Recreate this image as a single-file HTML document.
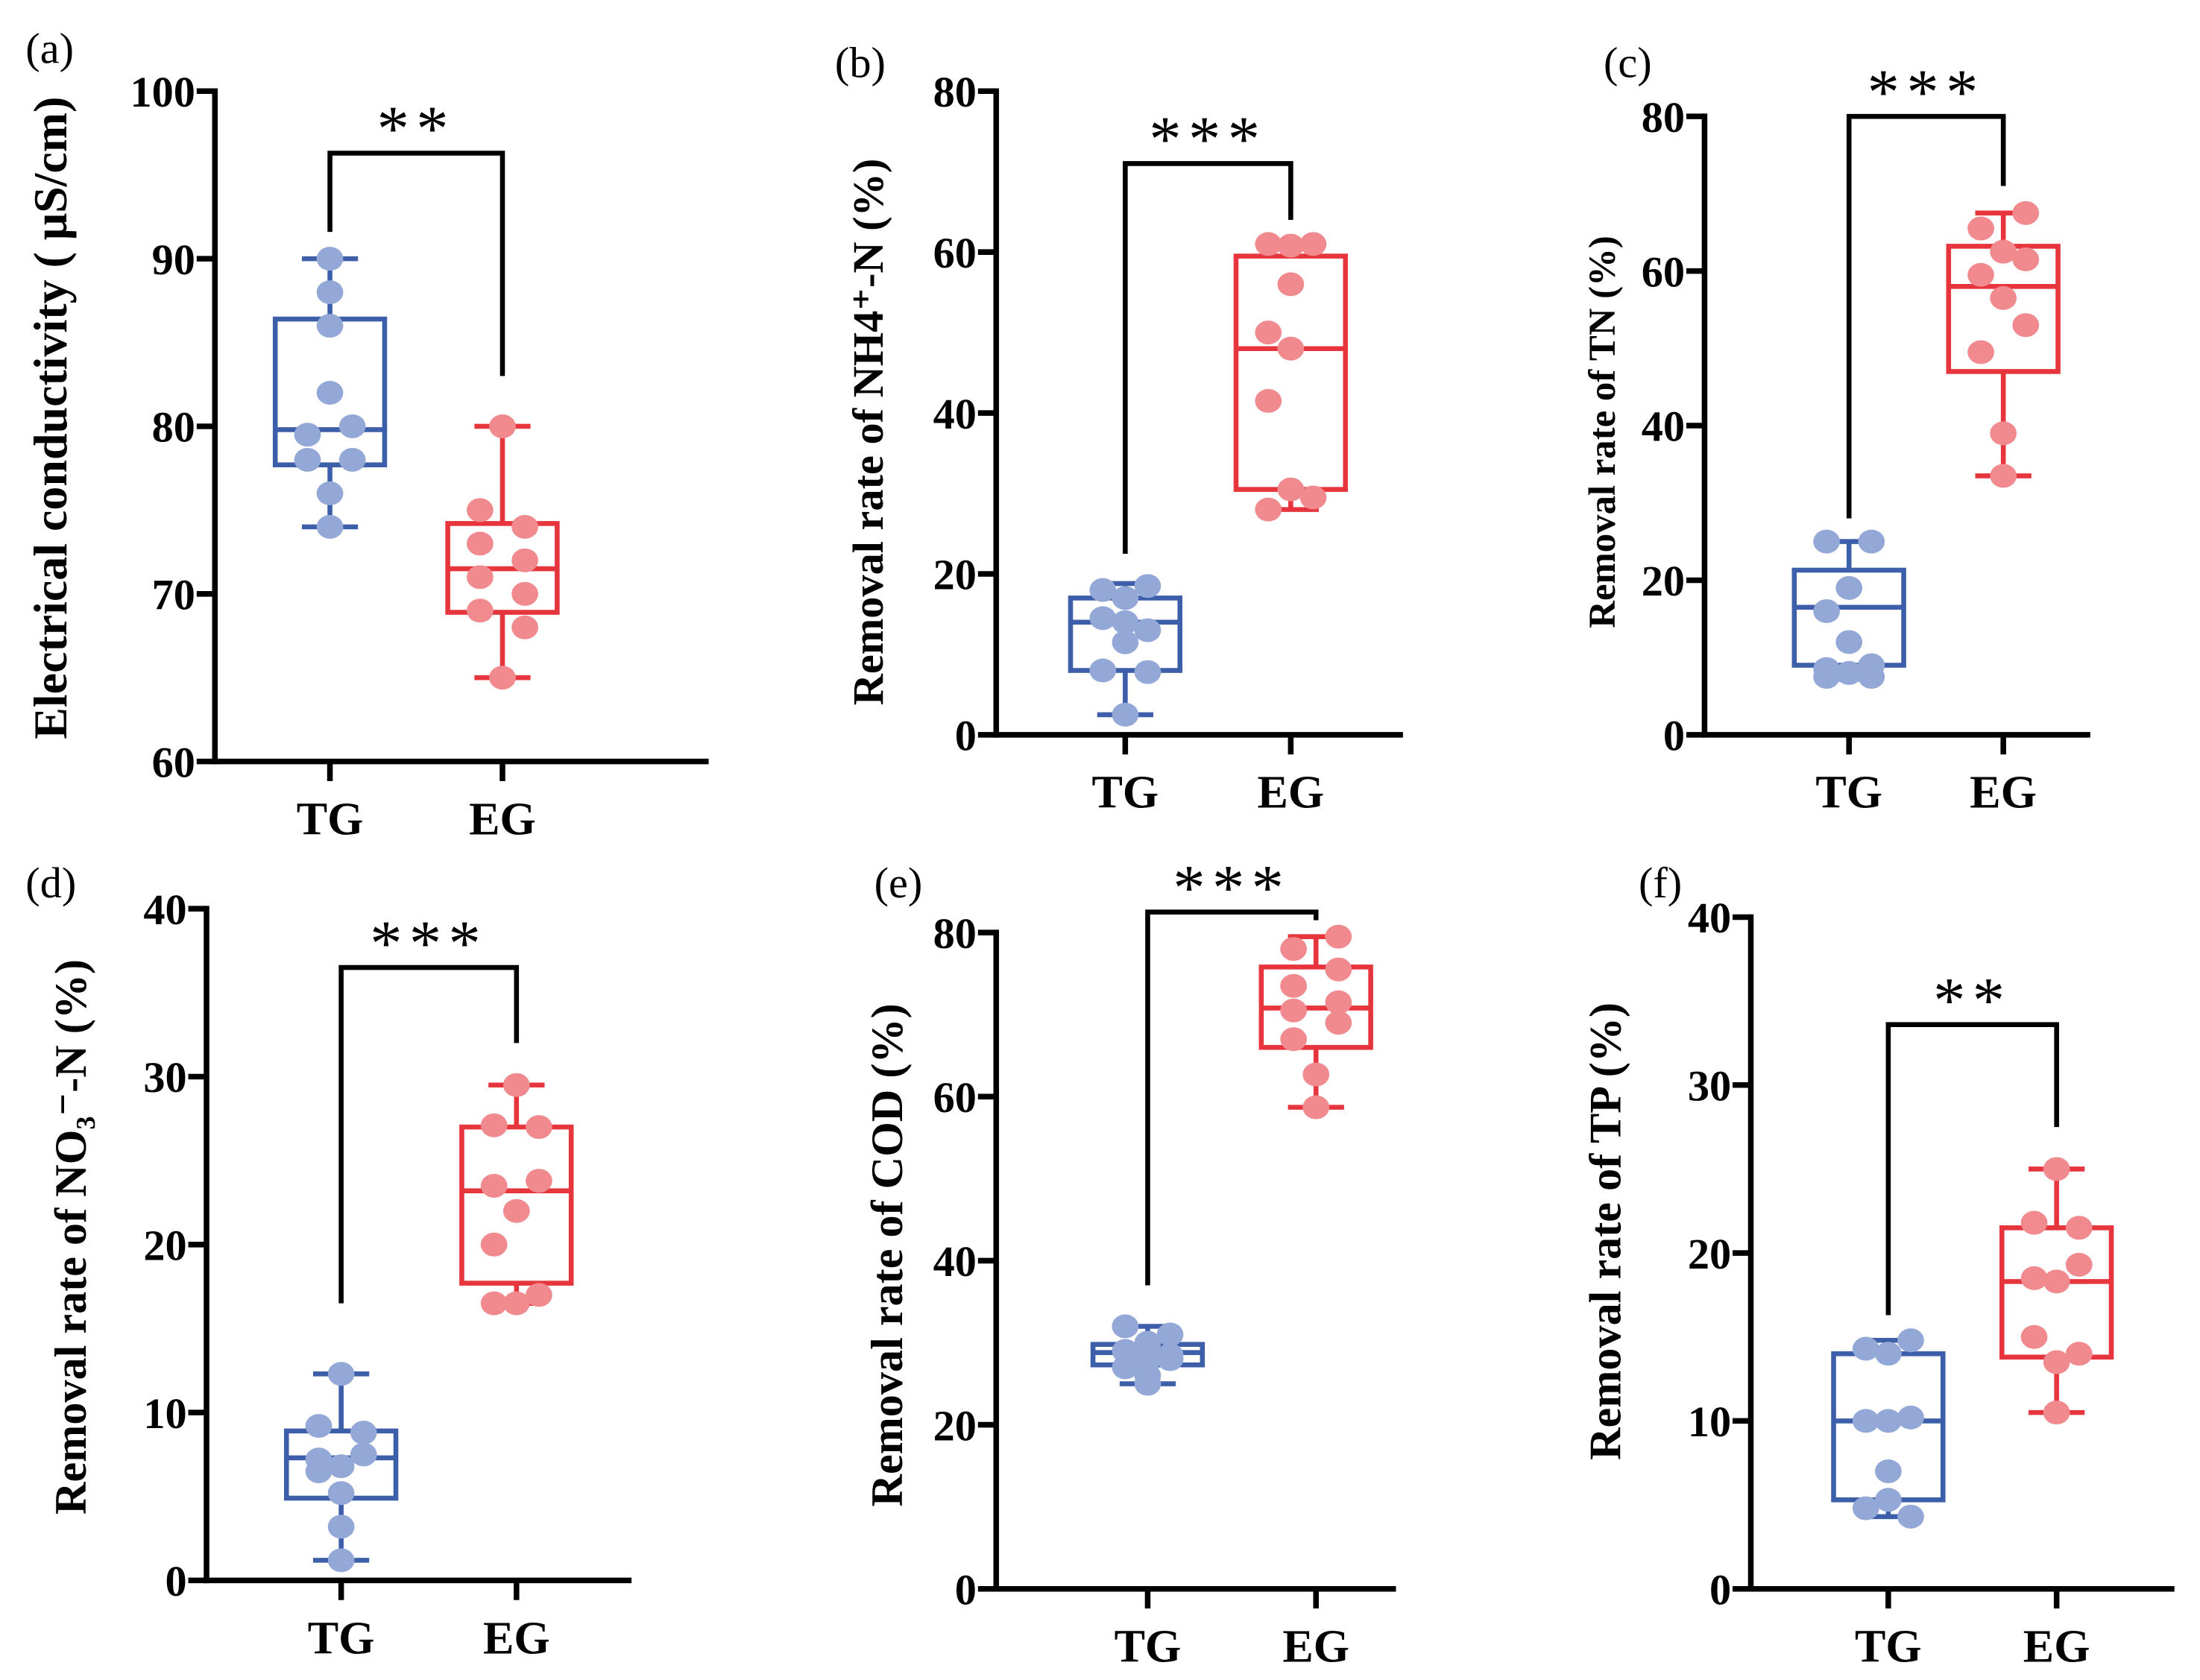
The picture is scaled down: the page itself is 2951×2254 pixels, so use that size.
<!DOCTYPE html>
<html><head><meta charset="utf-8"><style>
html,body{margin:0;padding:0;background:#fff}
svg{display:block}
text{font-family:"Liberation Serif","DejaVu Serif",serif}
</style></head><body>
<svg id="fig" width="2951" height="2254" viewBox="0 0 1568 1198" xmlns="http://www.w3.org/2000/svg"></svg>
<script>
// ---- data ----
const groups = ["TG","EG"];
const panelIds = ["a","b","c","d","e","f"];
const yTitles = ["Electrical conductivity ( μS/cm)","Removal rate of NH4⁺-N (%)","Removal rate of TN (%)","Removal rate of NO₃⁻-N (%)","Removal rate of COD (%)","Removal rate of TP (%)"];
const yMin = [60,0,0,0,0,0];
const yMax = [100,80,80,40,80,40];
const yStep = [10,20,20,10,20,10];
const sigLabels = ["**","***","***","***","***","**"];
const tgValues = [
 [90,88,86,82,80,79.5,78,78,76,74],
 [18,18.5,17,14.5,14,13,11.5,8,7.8,2.5],
 [25,25,19,16,12,9,8.5,8,7.5,7.5],
 [12.3,9.2,8.8,7.5,7.2,6.8,6.5,5.2,3.2,1.2],
 [32,31,30,29,28.5,28,28,27,26,25],
 [14.8,14.3,14,10.2,10,10,7,5.3,4.8,4.3]];
const egValues = [
 [80,75,74,73,72,71,70,69,68,65],
 [61,61,60.8,56,50,48,41.5,30.5,29.5,28],
 [67.5,65.5,62.5,61.5,59.5,56.5,53,49.5,39,33.5],
 [29.5,27.1,27,23.8,23.5,22,20,17,16.5,16.5],
 [79.5,78,75.5,73.5,71.5,70.5,69,67,62.7,58.7],
 [25,21.8,21.5,19.3,18.5,18.3,15,14,13.5,10.5]];
const tgBox = [[74,77.7,79.8,86.4,90],[2.5,8,14,17,18.8],[7.2,9,16.5,21.3,25],[1.2,4.9,7.3,8.9,12.3],[25,27.3,28.8,29.8,32],[4.3,5.3,10,14,14.8]];
const egBox = [[65,68.9,71.5,74.2,80],[28,30.5,48,59.5,61],[33.5,47,58,63.2,67.5],[16.5,17.7,23.2,27,29.5],[58.7,66,70.8,75.8,79.5],[10.5,13.8,18.3,21.5,25]];
const bracketTop = [96.3,71,80,36.5,82.5,33.6];
const bracketTG = [91.6,22.5,28,16.5,37,16.3];
const bracketEG = [83,64,71,32,81.5,27.5];
const tgSide = [[0,0,0,0,1,-1,-1,1,0,0],[-1,1,0,-1,0,1,0,-1,1,0],[-1,1,0,-1,0,1,-1,0,1,-1],[0,-1,1,1,-1,0,-1,0,0,0],[-1,1,0,-1,1,0,1,-1,0,0],[1,-1,0,1,-1,0,0,0,-1,1]];
const egSide = [[0,-1,1,-1,1,-1,1,-1,1,0],[-1,1,0,0,-1,0,-1,0,1,-1],[1,-1,0,1,-1,0,1,-1,0,0],[0,-1,1,1,-1,0,-1,1,-1,0],[1,-1,1,-1,1,-1,1,-1,0,0],[0,-1,1,1,-1,0,-1,1,0,0]];

const L = [
 {ax:153,top:65,bot:543,xEnd:505,tg:235,eg:358,lab:[18,45],tx:36,ty:298,fs:34},
 {ax:710,top:65,bot:524,xEnd:1000,tg:802,eg:920,lab:[595,55],tx:618,ty:308,fs:31},
 {ax:1215,top:83,bot:524,xEnd:1490,tg:1318,eg:1428,lab:[1143,55],tx:1140,ty:308,fs:27},
 {ax:147,top:648,bot:1127,xEnd:450,tg:243,eg:368,lab:[18,640],tx:50,ty:882,fs:32},
 {ax:710,top:665,bot:1133,xEnd:995,tg:818,eg:938,lab:[623,640],tx:632,ty:895,fs:32},
 {ax:1248,top:654,bot:1133,xEnd:1550,tg:1346,eg:1466,lab:[1168,640],tx:1144,ty:878,fs:32}];
const BLUE="#3d5ea8",BLUED="#93a8d6",RED="#e6353d",REDD="#f08a8e";
const svg=document.getElementById('fig');
const NS="http://www.w3.org/2000/svg";
function mk(tag,attrs,parent){const e=document.createElementNS(NS,tag);for(const k in attrs)e.setAttribute(k,attrs[k]);(parent||svg).appendChild(e);return e;}

panelIds.forEach((pid,i)=>{
 const c=L[i];
 const g=mk('g',{});
 
 
 const y=v=>c.bot-(v-yMin[i])/(yMax[i]-yMin[i])*(c.bot-c.top);
 const lab=mk('text',{x:c.lab[0],y:c.lab[1],'font-size':31},g);lab.textContent='('+pid+')';
 
 
 const ya=mk('line',{x1:c.ax,y1:c.top-2,x2:c.ax,y2:c.bot+2,stroke:'#000','stroke-width':4},g);
 
 
 const xa=mk('line',{x1:c.ax-2,y1:c.bot,x2:c.xEnd,y2:c.bot,stroke:'#000','stroke-width':4},g);
 
 
 for(let v=yMin[i];v<=yMax[i]+1e-9;v+=yStep[i]){
  mk('line',{x1:c.ax-13,y1:y(v),x2:c.ax,y2:y(v),stroke:'#000','stroke-width':4},g);
  const t=mk('text',{x:c.ax-14,y:y(v)+11,'font-size':31,'font-weight':'bold','text-anchor':'end'},g);t.textContent=v;
  
  
 }
 [c.tg,c.eg].forEach((gx,k)=>{
  mk('line',{x1:gx,y1:c.bot,x2:gx,y2:c.bot+14,stroke:'#000','stroke-width':4},g);
  const t=mk('text',{x:gx,y:c.bot+52,'font-size':33,'font-weight':'bold','text-anchor':'middle'},g);t.textContent=groups[k];
  
  
 });
 const yt=mk('text',{x:0,y:0,'font-size':c.fs,'font-weight':'bold','text-anchor':'middle',transform:`translate(${c.tx+11},${c.ty}) rotate(-90)`},g);
 yt.textContent=yTitles[i];
 
 
 [[c.tg,tgBox[i],tgValues[i],tgSide[i],BLUE,BLUED,'tg'],[c.eg,egBox[i],egValues[i],egSide[i],RED,REDD,'eg']].forEach(([gx,b,vals,side,col,dcol,nm])=>{
  const bg=mk('g',{},g);
  
  
  const hw=39,cw=20;
  mk('line',{x1:gx,y1:y(b[0]),x2:gx,y2:y(b[1]),stroke:col,'stroke-width':3.5},bg);
  mk('line',{x1:gx,y1:y(b[3]),x2:gx,y2:y(b[4]),stroke:col,'stroke-width':3.5},bg);
  mk('line',{x1:gx-cw,y1:y(b[0]),x2:gx+cw,y2:y(b[0]),stroke:col,'stroke-width':3.5},bg);
  mk('line',{x1:gx-cw,y1:y(b[4]),x2:gx+cw,y2:y(b[4]),stroke:col,'stroke-width':3.5},bg);
  mk('rect',{x:gx-hw,y:y(b[3]),width:2*hw,height:y(b[1])-y(b[3]),fill:'none',stroke:col,'stroke-width':3.5},bg);
  mk('line',{x1:gx-hw,y1:y(b[2]),x2:gx+hw,y2:y(b[2]),stroke:col,'stroke-width':3.5},bg);
  vals.forEach((v,j)=>{
   const d=mk('ellipse',{cx:gx+side[j]*16,cy:y(v),rx:9.5,ry:8.5,fill:dcol},bg);
   
   
  });
 });
 const bt=y(bracketTop[i]);
 const br=mk('polyline',{points:`${c.tg},${y(bracketTG[i])} ${c.tg},${bt} ${c.eg},${bt} ${c.eg},${y(bracketEG[i])}`,fill:'none',stroke:'#000','stroke-width':3.5},g);
 
 
 const st=mk('text',{x:(c.tg+c.eg)/2,y:bt-2,'font-size':46,'text-anchor':'middle','letter-spacing':'5'},g);
 st.textContent=sigLabels[i];
 
 
});
</script>
</body></html>
